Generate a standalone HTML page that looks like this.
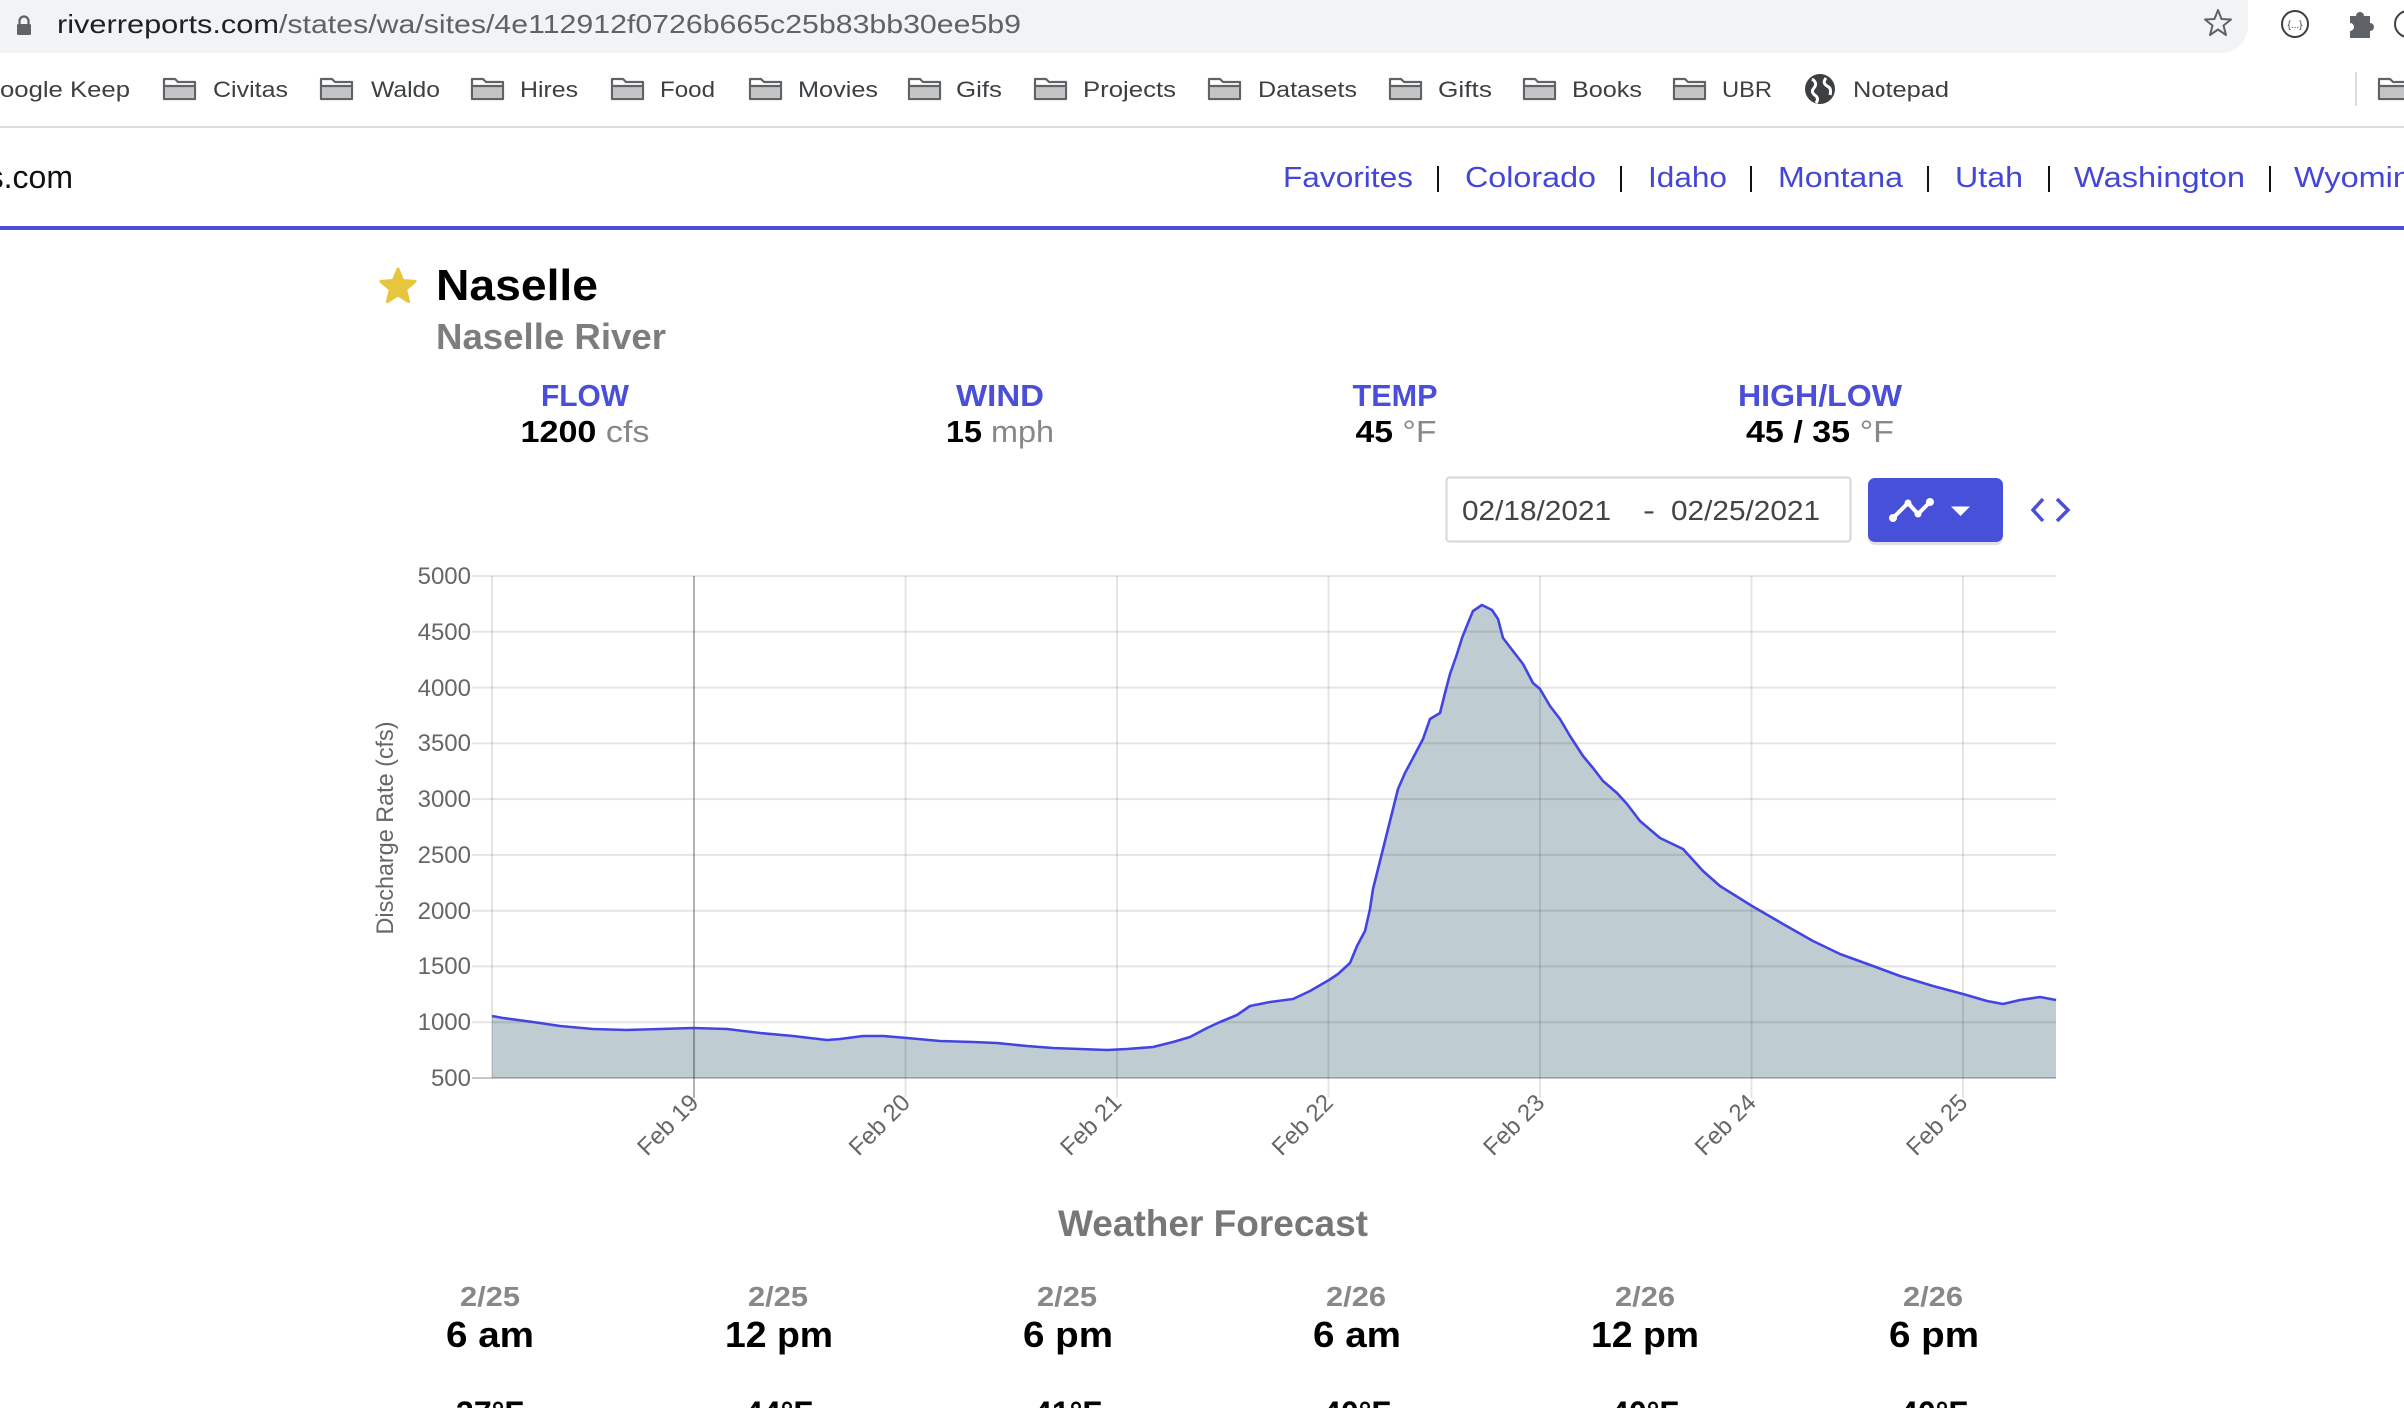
<!DOCTYPE html>
<html>
<head>
<meta charset="utf-8">
<style>
html,body{margin:0;padding:0;background:#fff;}
body{width:2404px;height:1408px;overflow:hidden;}
svg{display:block;font-family:"Liberation Sans",Arial,sans-serif;}
</style>
</head>
<body>
<svg width="2404" height="1408" viewBox="0 0 2404 1408" xmlns="http://www.w3.org/2000/svg">
<rect width="2404" height="1408" fill="#fff"/>

<!-- Browser URL bar -->
<rect x="-40" y="-40" width="2288" height="93" rx="27" fill="#f1f3f4"/>
<path d="M19.5 24 v-3 a4.5 4.5 0 0 1 9 0 v3" fill="none" stroke="#5f6368" stroke-width="2.2"/>
<rect x="17" y="24" width="14" height="11" rx="1.5" fill="#5f6368"/>
<text x="57" y="33" font-size="26" fill="#202124" textLength="222" lengthAdjust="spacingAndGlyphs">riverreports.com</text>
<text x="279" y="33" font-size="26" fill="#5f6368" textLength="742" lengthAdjust="spacingAndGlyphs">/states/wa/sites/4e112912f0726b665c25b83bb30ee5b9</text>
<polygon points="2218,10 2221.5,19 2231,19.5 2223.5,25.5 2226,35 2218,29.5 2210,35 2212.5,25.5 2205,19.5 2214.5,19" fill="none" stroke="#5f6368" stroke-width="2" stroke-linejoin="round"/>
<circle cx="2295" cy="24" r="13" fill="none" stroke="#3c4043" stroke-width="2"/>
<text x="2295" y="28" font-size="10" fill="#3c4043" text-anchor="middle">{...}</text>
<path d="M2350 16 h6 a4 4 0 0 1 8 0 h6 v7 a4 4 0 0 1 0 8 v7 h-20 v-7 a4 4 0 0 0 0 -8 z" fill="#5f6368"/>
<circle cx="2408" cy="24" r="13" fill="none" stroke="#3c4043" stroke-width="2"/>

<!-- Bookmarks bar -->
<g font-size="22" fill="#3c4043">
<text x="130" y="97" text-anchor="end" textLength="150" lengthAdjust="spacingAndGlyphs">Google Keep</text>
<text x="213" y="97" textLength="75" lengthAdjust="spacingAndGlyphs">Civitas</text>
<text x="371" y="97" textLength="69" lengthAdjust="spacingAndGlyphs">Waldo</text>
<text x="520" y="97" textLength="58" lengthAdjust="spacingAndGlyphs">Hires</text>
<text x="660" y="97" textLength="55" lengthAdjust="spacingAndGlyphs">Food</text>
<text x="798" y="97" textLength="80" lengthAdjust="spacingAndGlyphs">Movies</text>
<text x="956" y="97" textLength="46" lengthAdjust="spacingAndGlyphs">Gifs</text>
<text x="1083" y="97" textLength="93" lengthAdjust="spacingAndGlyphs">Projects</text>
<text x="1258" y="97" textLength="99" lengthAdjust="spacingAndGlyphs">Datasets</text>
<text x="1438" y="97" textLength="54" lengthAdjust="spacingAndGlyphs">Gifts</text>
<text x="1572" y="97" textLength="70" lengthAdjust="spacingAndGlyphs">Books</text>
<text x="1722" y="97" textLength="50" lengthAdjust="spacingAndGlyphs">UBR</text>
<text x="1853" y="97" textLength="96" lengthAdjust="spacingAndGlyphs">Notepad</text>
</g>
<g stroke="#5f6368" stroke-width="2.2" stroke-linejoin="round">
<path d="M164 79 h11 l3 3 h17 v17 h-31 z" fill="#fff"/><rect x="165" y="86" width="29" height="12" fill="#c4c4c4" stroke="none"/><line x1="164" y1="86" x2="195" y2="86"/>
<path d="M321 79 h11 l3 3 h17 v17 h-31 z" fill="#fff"/><rect x="322" y="86" width="29" height="12" fill="#c4c4c4" stroke="none"/><line x1="321" y1="86" x2="352" y2="86"/>
<path d="M472 79 h11 l3 3 h17 v17 h-31 z" fill="#fff"/><rect x="473" y="86" width="29" height="12" fill="#c4c4c4" stroke="none"/><line x1="472" y1="86" x2="503" y2="86"/>
<path d="M612 79 h11 l3 3 h17 v17 h-31 z" fill="#fff"/><rect x="613" y="86" width="29" height="12" fill="#c4c4c4" stroke="none"/><line x1="612" y1="86" x2="643" y2="86"/>
<path d="M750 79 h11 l3 3 h17 v17 h-31 z" fill="#fff"/><rect x="751" y="86" width="29" height="12" fill="#c4c4c4" stroke="none"/><line x1="750" y1="86" x2="781" y2="86"/>
<path d="M909 79 h11 l3 3 h17 v17 h-31 z" fill="#fff"/><rect x="910" y="86" width="29" height="12" fill="#c4c4c4" stroke="none"/><line x1="909" y1="86" x2="940" y2="86"/>
<path d="M1035 79 h11 l3 3 h17 v17 h-31 z" fill="#fff"/><rect x="1036" y="86" width="29" height="12" fill="#c4c4c4" stroke="none"/><line x1="1035" y1="86" x2="1066" y2="86"/>
<path d="M1209 79 h11 l3 3 h17 v17 h-31 z" fill="#fff"/><rect x="1210" y="86" width="29" height="12" fill="#c4c4c4" stroke="none"/><line x1="1209" y1="86" x2="1240" y2="86"/>
<path d="M1390 79 h11 l3 3 h17 v17 h-31 z" fill="#fff"/><rect x="1391" y="86" width="29" height="12" fill="#c4c4c4" stroke="none"/><line x1="1390" y1="86" x2="1421" y2="86"/>
<path d="M1524 79 h11 l3 3 h17 v17 h-31 z" fill="#fff"/><rect x="1525" y="86" width="29" height="12" fill="#c4c4c4" stroke="none"/><line x1="1524" y1="86" x2="1555" y2="86"/>
<path d="M1674 79 h11 l3 3 h17 v17 h-31 z" fill="#fff"/><rect x="1675" y="86" width="29" height="12" fill="#c4c4c4" stroke="none"/><line x1="1674" y1="86" x2="1705" y2="86"/>
<path d="M2379 79 h11 l3 3 h17 v17 h-31 z" fill="#fff"/><rect x="2380" y="86" width="29" height="12" fill="#c4c4c4" stroke="none"/><line x1="2379" y1="86" x2="2410" y2="86"/>
</g>
<circle cx="1820" cy="89" r="15" fill="#3c4043"/>
<path d="M1812 79 q6 4 2 9 q-4 4 2 8 q3 3 0 7 M1826 78 q-4 5 1 8 q5 2 3 9" fill="none" stroke="#fff" stroke-width="3"/>
<line x1="2356" y1="72" x2="2356" y2="106" stroke="#dadce0" stroke-width="2"/>
<line x1="0" y1="127" x2="2404" y2="127" stroke="#dadce0" stroke-width="2"/>

<!-- Site header -->
<text x="73" y="188" font-size="32" fill="#111" text-anchor="end">riverreports.com</text>
<g font-size="29" fill="#4346d6">
<text x="1283" y="187" textLength="130" lengthAdjust="spacingAndGlyphs">Favorites</text>
<text x="1465" y="187" textLength="131" lengthAdjust="spacingAndGlyphs">Colorado</text>
<text x="1648" y="187" textLength="79" lengthAdjust="spacingAndGlyphs">Idaho</text>
<text x="1778" y="187" textLength="125" lengthAdjust="spacingAndGlyphs">Montana</text>
<text x="1955" y="187" textLength="68" lengthAdjust="spacingAndGlyphs">Utah</text>
<text x="2074" y="187" textLength="171" lengthAdjust="spacingAndGlyphs">Washington</text>
<text x="2294" y="187" textLength="135" lengthAdjust="spacingAndGlyphs">Wyoming</text>
</g>
<g stroke="#111" stroke-width="2">
<line x1="1438" y1="166" x2="1438" y2="192"/>
<line x1="1621" y1="166" x2="1621" y2="192"/>
<line x1="1751" y1="166" x2="1751" y2="192"/>
<line x1="1928" y1="166" x2="1928" y2="192"/>
<line x1="2049" y1="166" x2="2049" y2="192"/>
<line x1="2270" y1="166" x2="2270" y2="192"/>
</g>
<rect x="0" y="226" width="2404" height="4" fill="#4a4fd9"/>

<!-- Title -->
<polygon points="398,269 402.7,280.5 415.1,281.4 405.6,289.5 408.6,301.6 398,295 387.4,301.6 390.4,289.5 380.9,281.4 393.3,280.5" fill="#e6c63c" stroke="#e6c63c" stroke-width="3" stroke-linejoin="round"/>
<text x="436" y="300" font-size="44" font-weight="bold" fill="#000" textLength="162" lengthAdjust="spacingAndGlyphs">Naselle</text>
<text x="436" y="349" font-size="36" font-weight="bold" fill="#7d7d7d" textLength="230" lengthAdjust="spacingAndGlyphs">Naselle River</text>

<!-- Stats -->
<g font-size="31" font-weight="bold" fill="#4a4ed8" text-anchor="middle">
<text x="585" y="406" textLength="88" lengthAdjust="spacingAndGlyphs">FLOW</text>
<text x="1000" y="406" textLength="88" lengthAdjust="spacingAndGlyphs">WIND</text>
<text x="1395" y="406" textLength="85" lengthAdjust="spacingAndGlyphs">TEMP</text>
<text x="1820" y="406" textLength="164" lengthAdjust="spacingAndGlyphs">HIGH/LOW</text>
</g>
<g font-size="31" text-anchor="middle">
<text x="585" y="442" textLength="129" lengthAdjust="spacingAndGlyphs"><tspan font-weight="bold" fill="#000">1200</tspan><tspan fill="#888"> cfs</tspan></text>
<text x="1000" y="442" textLength="108" lengthAdjust="spacingAndGlyphs"><tspan font-weight="bold" fill="#000">15</tspan><tspan fill="#888"> mph</tspan></text>
<text x="1396" y="442" textLength="81" lengthAdjust="spacingAndGlyphs"><tspan font-weight="bold" fill="#000">45</tspan><tspan fill="#888"> °F</tspan></text>
<text x="1820" y="442" textLength="148" lengthAdjust="spacingAndGlyphs"><tspan font-weight="bold" fill="#000">45 / 35</tspan><tspan fill="#888"> °F</tspan></text>
</g>

<!-- Date range box -->
<rect x="1446.5" y="477.5" width="404" height="64" rx="3" fill="#fff" stroke="#d6d6d6" stroke-width="2"/>
<g font-size="28" fill="#444">
<text x="1462" y="520" textLength="149" lengthAdjust="spacingAndGlyphs">02/18/2021</text>
<text x="1643" y="520" textLength="12" lengthAdjust="spacingAndGlyphs">-</text>
<text x="1671" y="520" textLength="149" lengthAdjust="spacingAndGlyphs">02/25/2021</text>
</g>
<rect x="1868" y="482" width="135" height="63" rx="7" fill="#000" opacity="0.12"/>
<rect x="1868" y="478" width="135" height="64" rx="7" fill="#4650d9"/>
<polyline points="1893,518 1908,503 1918,514 1930,502" fill="none" stroke="#fff" stroke-width="4" stroke-linejoin="round" stroke-linecap="round"/>
<circle cx="1893" cy="518" r="4" fill="#fff"/>
<circle cx="1908" cy="503" r="3.5" fill="#fff"/>
<circle cx="1918" cy="514" r="3.5" fill="#fff"/>
<circle cx="1930" cy="502" r="4" fill="#fff"/>
<polygon points="1951,506.5 1970,506.5 1960.5,516" fill="#fff"/>
<polyline points="2043,499 2033,510 2043,521" fill="none" stroke="#4a4fd9" stroke-width="3.5"/>
<polyline points="2057,499 2068,510 2057,521" fill="none" stroke="#4a4fd9" stroke-width="3.5"/>

<!-- Chart -->
<polygon fill="#bfccd1" points="492,1016 503,1018 533,1022 560,1026 593,1029 627,1030 660,1029 693,1028 727,1029 760,1033 793,1036 827,1040 840,1039 863,1036 883,1036 907,1038 940,1041 973,1042 997,1043 1027,1046 1053,1048 1080,1049 1107,1050 1127,1049 1153,1047 1173,1042 1190,1037 1207,1028 1220,1022 1237,1015 1250,1006 1270,1002 1293,999 1310,991 1329,980 1338,974 1350,963 1357,946 1365,931 1370,909 1373,889 1378,869 1383,849 1388,829 1393,809 1398,789 1405,773 1413,758 1423,739 1430,719 1440,713 1445,693 1450,674 1457,654 1462,638 1468,623 1473,611 1482,605 1492,610 1498,619 1503,638 1513,651 1523,664 1533,683 1540,689 1550,706 1560,719 1570,736 1583,756 1593,768 1603,781 1617,793 1627,804 1640,821 1660,838 1683,849 1703,871 1720,886 1752,906 1783,924 1813,941 1840,954 1873,966 1900,976 1933,986 1963,994 1987,1001 2003,1004 2020,1000 2040,997 2056,1000 2056,1078 492,1078"/>
<g stroke="rgba(0,0,0,0.1)" stroke-width="2">
<line x1="472" y1="576" x2="2056" y2="576"/>
<line x1="472" y1="631.8" x2="2056" y2="631.8"/>
<line x1="472" y1="687.6" x2="2056" y2="687.6"/>
<line x1="472" y1="743.3" x2="2056" y2="743.3"/>
<line x1="472" y1="799.1" x2="2056" y2="799.1"/>
<line x1="472" y1="854.9" x2="2056" y2="854.9"/>
<line x1="472" y1="910.7" x2="2056" y2="910.7"/>
<line x1="472" y1="966.4" x2="2056" y2="966.4"/>
<line x1="472" y1="1022.2" x2="2056" y2="1022.2"/>
<line x1="492" y1="576" x2="492" y2="1078"/>
<line x1="905.5" y1="576" x2="905.5" y2="1098"/>
<line x1="1117" y1="576" x2="1117" y2="1098"/>
<line x1="1328.5" y1="576" x2="1328.5" y2="1098"/>
<line x1="1540" y1="576" x2="1540" y2="1098"/>
<line x1="1751.5" y1="576" x2="1751.5" y2="1098"/>
<line x1="1963" y1="576" x2="1963" y2="1098"/>
</g>
<line x1="694" y1="576" x2="694" y2="1098" stroke="rgba(0,0,0,0.3)" stroke-width="2"/>
<line x1="472" y1="1078" x2="2056" y2="1078" stroke="rgba(0,0,0,0.22)" stroke-width="2"/>
<polyline fill="none" stroke="#4345e0" stroke-width="2.6" stroke-linejoin="round" points="492,1016 503,1018 533,1022 560,1026 593,1029 627,1030 660,1029 693,1028 727,1029 760,1033 793,1036 827,1040 840,1039 863,1036 883,1036 907,1038 940,1041 973,1042 997,1043 1027,1046 1053,1048 1080,1049 1107,1050 1127,1049 1153,1047 1173,1042 1190,1037 1207,1028 1220,1022 1237,1015 1250,1006 1270,1002 1293,999 1310,991 1329,980 1338,974 1350,963 1357,946 1365,931 1370,909 1373,889 1378,869 1383,849 1388,829 1393,809 1398,789 1405,773 1413,758 1423,739 1430,719 1440,713 1445,693 1450,674 1457,654 1462,638 1468,623 1473,611 1482,605 1492,610 1498,619 1503,638 1513,651 1523,664 1533,683 1540,689 1550,706 1560,719 1570,736 1583,756 1593,768 1603,781 1617,793 1627,804 1640,821 1660,838 1683,849 1703,871 1720,886 1752,906 1783,924 1813,941 1840,954 1873,966 1900,976 1933,986 1963,994 1987,1001 2003,1004 2020,1000 2040,997 2056,1000"/>

<g font-size="24" fill="#666" text-anchor="end">
<text x="471" y="584">5000</text>
<text x="471" y="640">4500</text>
<text x="471" y="696">4000</text>
<text x="471" y="751">3500</text>
<text x="471" y="807">3000</text>
<text x="471" y="863">2500</text>
<text x="471" y="919">2000</text>
<text x="471" y="974">1500</text>
<text x="471" y="1030">1000</text>
<text x="471" y="1086">500</text>
</g>
<text transform="translate(393,828) rotate(-90)" font-size="24" fill="#666" text-anchor="middle" textLength="213" lengthAdjust="spacingAndGlyphs">Discharge Rate (cfs)</text>

<g font-size="24" fill="#666" text-anchor="end">
<text transform="translate(700,1104) rotate(-45)">Feb 19</text>
<text transform="translate(911.5,1104) rotate(-45)">Feb 20</text>
<text transform="translate(1123,1104) rotate(-45)">Feb 21</text>
<text transform="translate(1334.5,1104) rotate(-45)">Feb 22</text>
<text transform="translate(1546,1104) rotate(-45)">Feb 23</text>
<text transform="translate(1757.5,1104) rotate(-45)">Feb 24</text>
<text transform="translate(1969,1104) rotate(-45)">Feb 25</text>
</g>

<!-- Weather Forecast -->
<text x="1213" y="1236" font-size="37" font-weight="bold" fill="#777" text-anchor="middle" textLength="310" lengthAdjust="spacingAndGlyphs">Weather Forecast</text>
<g font-size="28" font-weight="bold" fill="#888" text-anchor="middle">
<text x="490" y="1306" textLength="60" lengthAdjust="spacingAndGlyphs">2/25</text>
<text x="778" y="1306" textLength="60" lengthAdjust="spacingAndGlyphs">2/25</text>
<text x="1067" y="1306" textLength="60" lengthAdjust="spacingAndGlyphs">2/25</text>
<text x="1356" y="1306" textLength="60" lengthAdjust="spacingAndGlyphs">2/26</text>
<text x="1645" y="1306" textLength="60" lengthAdjust="spacingAndGlyphs">2/26</text>
<text x="1933" y="1306" textLength="60" lengthAdjust="spacingAndGlyphs">2/26</text>
</g>
<g font-size="36" font-weight="bold" fill="#000" text-anchor="middle">
<text x="490" y="1347" textLength="88" lengthAdjust="spacingAndGlyphs">6 am</text>
<text x="779" y="1347" textLength="108" lengthAdjust="spacingAndGlyphs">12 pm</text>
<text x="1068" y="1347" textLength="90" lengthAdjust="spacingAndGlyphs">6 pm</text>
<text x="1357" y="1347" textLength="88" lengthAdjust="spacingAndGlyphs">6 am</text>
<text x="1645" y="1347" textLength="108" lengthAdjust="spacingAndGlyphs">12 pm</text>
<text x="1934" y="1347" textLength="90" lengthAdjust="spacingAndGlyphs">6 pm</text>
</g>
<g font-size="32" font-weight="bold" fill="#000" text-anchor="middle">
<text x="490" y="1424">37°F</text>
<text x="779" y="1424">44°F</text>
<text x="1068" y="1424">41°F</text>
<text x="1357" y="1424">40°F</text>
<text x="1645" y="1424">40°F</text>
<text x="1934" y="1424">40°F</text>
</g>
</svg>
</body>
</html>
